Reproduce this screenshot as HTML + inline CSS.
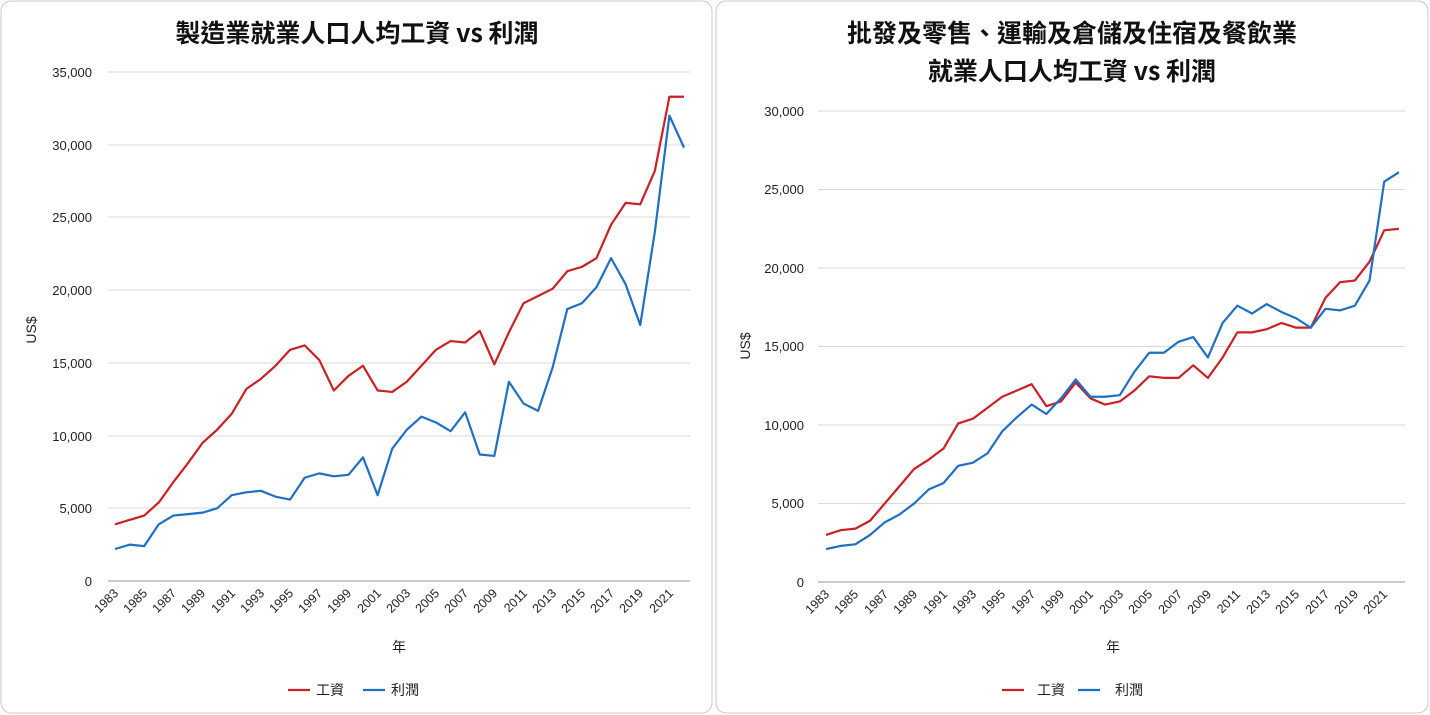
<!DOCTYPE html>
<html><head><meta charset="utf-8"><style>
body{margin:0;background:#fff;}
svg{display:block;font-family:"Liberation Sans","Noto Sans CJK TC",sans-serif;}
.t{font-family:"Noto Sans CJK TC","Liberation Sans",sans-serif;font-weight:700;font-size:25px;fill:#111;}
.yl{font-size:13px;fill:#222;text-anchor:end;}
.xl{font-size:12.5px;fill:#222;text-anchor:end;}
.g{stroke:#d9d9d9;stroke-width:1;}
.ax{font-family:"Liberation Sans","Noto Sans CJK TC",sans-serif;font-size:14px;fill:#222;}
</style></head><body>
<svg width="1430" height="715" viewBox="0 0 1430 715">
<rect x="1" y="1" width="711" height="712" rx="10" fill="#fff" stroke="#c8c8c8"/>
<rect x="716" y="1" width="712" height="712" rx="10" fill="#fff" stroke="#c8c8c8"/>

<!-- LEFT -->
<text class="t" x="357" y="42" text-anchor="middle">製造業就業人口人均工資 vs 利潤</text>
<g>
<line class="g" x1="108" x2="690" y1="72" y2="72"/><line class="g" x1="108" x2="690" y1="145" y2="145"/>
<line class="g" x1="108" x2="690" y1="217" y2="217"/><line class="g" x1="108" x2="690" y1="290" y2="290"/>
<line class="g" x1="108" x2="690" y1="363" y2="363"/><line class="g" x1="108" x2="690" y1="436" y2="436"/>
<line class="g" x1="108" x2="690" y1="508" y2="508"/><line x1="108" x2="690" y1="581" y2="581" stroke="#999"/>
</g>
<g class="yl">
<text x="92" y="77">35,000</text><text x="92" y="150">30,000</text><text x="92" y="222">25,000</text>
<text x="92" y="295">20,000</text><text x="92" y="368">15,000</text><text x="92" y="441">10,000</text>
<text x="92" y="513">5,000</text><text x="92" y="586">0</text>
</g>
<text class="ax" transform="translate(36,330) rotate(-90)" text-anchor="middle">US$</text>
<g class="xl">
<text transform="translate(119,594) rotate(-45)">1983</text><text transform="translate(148,594) rotate(-45)">1985</text>
<text transform="translate(177,594) rotate(-45)">1987</text><text transform="translate(206,594) rotate(-45)">1989</text>
<text transform="translate(236,594) rotate(-45)">1991</text><text transform="translate(265,594) rotate(-45)">1993</text>
<text transform="translate(294,594) rotate(-45)">1995</text><text transform="translate(323,594) rotate(-45)">1997</text>
<text transform="translate(352,594) rotate(-45)">1999</text><text transform="translate(382,594) rotate(-45)">2001</text>
<text transform="translate(411,594) rotate(-45)">2003</text><text transform="translate(440,594) rotate(-45)">2005</text>
<text transform="translate(469,594) rotate(-45)">2007</text><text transform="translate(498,594) rotate(-45)">2009</text>
<text transform="translate(528,594) rotate(-45)">2011</text><text transform="translate(557,594) rotate(-45)">2013</text>
<text transform="translate(586,594) rotate(-45)">2015</text><text transform="translate(615,594) rotate(-45)">2017</text>
<text transform="translate(644,594) rotate(-45)">2019</text><text transform="translate(674,594) rotate(-45)">2021</text>
</g>
<text class="ax" x="399" y="652" text-anchor="middle">年</text>
<g transform="matrix(14.59 0 0 -0.014543 115 581)" fill="none">
<polyline vector-effect="non-scaling-stroke" stroke="#cc1f26" stroke-width="2.2" stroke-linejoin="round" points="0,3900 1,4200 2,4500 3,5400 4,6800 5,8100 6,9500 7,10400 8,11500 9,13200 10,13900 11,14800 12,15900 13,16200 14,15200 15,13100 16,14100 17,14800 18,13100 19,13000 20,13700 21,14800 22,15900 23,16500 24,16400 25,17200 26,14900 27,17100 28,19100 29,19600 30,20100 31,21300 32,21600 33,22200 34,24500 35,26000 36,25900 37,28200 38,33300 39,33300"/>
<polyline vector-effect="non-scaling-stroke" stroke="#1f6fc5" stroke-width="2.2" stroke-linejoin="round" points="0,2200 1,2500 2,2400 3,3900 4,4500 5,4600 6,4700 7,5000 8,5900 9,6100 10,6200 11,5800 12,5600 13,7100 14,7400 15,7200 16,7300 17,8500 18,5900 19,9100 20,10400 21,11300 22,10900 23,10300 24,11600 25,8700 26,8600 27,13700 28,12200 29,11700 30,14700 31,18700 32,19100 33,20200 34,22200 35,20400 36,17600 37,24000 38,32000 39,29800"/>
</g>
<line x1="288" x2="310" y1="690" y2="690" stroke="#cc1f26" stroke-width="2.2"/>
<text class="ax" x="316" y="695">工資</text>
<line x1="363" x2="385" y1="690" y2="690" stroke="#1f6fc5" stroke-width="2.2"/>
<text class="ax" x="391" y="695">利潤</text>

<!-- RIGHT -->
<text class="t" x="1072" y="42" text-anchor="middle">批發及零售、運輸及倉儲及住宿及餐飲業</text>
<text class="t" x="1072" y="80" text-anchor="middle">就業人口人均工資 vs 利潤</text>
<g>
<line class="g" x1="818" x2="1405" y1="111" y2="111"/><line class="g" x1="818" x2="1405" y1="189.5" y2="189.5"/>
<line class="g" x1="818" x2="1405" y1="268" y2="268"/><line class="g" x1="818" x2="1405" y1="346.5" y2="346.5"/>
<line class="g" x1="818" x2="1405" y1="425" y2="425"/><line class="g" x1="818" x2="1405" y1="503.5" y2="503.5"/>
<line x1="818" x2="1405" y1="582" y2="582" stroke="#999"/>
</g>
<g class="yl">
<text x="804" y="116">30,000</text><text x="804" y="194">25,000</text><text x="804" y="273">20,000</text>
<text x="804" y="351">15,000</text><text x="804" y="430">10,000</text><text x="804" y="508">5,000</text>
<text x="804" y="587">0</text>
</g>
<text class="ax" transform="translate(750,346) rotate(-90)" text-anchor="middle">US$</text>
<g class="xl">
<text transform="translate(830,595) rotate(-45)">1983</text><text transform="translate(859,595) rotate(-45)">1985</text>
<text transform="translate(889,595) rotate(-45)">1987</text><text transform="translate(918,595) rotate(-45)">1989</text>
<text transform="translate(948,595) rotate(-45)">1991</text><text transform="translate(977,595) rotate(-45)">1993</text>
<text transform="translate(1006,595) rotate(-45)">1995</text><text transform="translate(1036,595) rotate(-45)">1997</text>
<text transform="translate(1065,595) rotate(-45)">1999</text><text transform="translate(1094,595) rotate(-45)">2001</text>
<text transform="translate(1124,595) rotate(-45)">2003</text><text transform="translate(1153,595) rotate(-45)">2005</text>
<text transform="translate(1183,595) rotate(-45)">2007</text><text transform="translate(1212,595) rotate(-45)">2009</text>
<text transform="translate(1241,595) rotate(-45)">2011</text><text transform="translate(1271,595) rotate(-45)">2013</text>
<text transform="translate(1300,595) rotate(-45)">2015</text><text transform="translate(1330,595) rotate(-45)">2017</text>
<text transform="translate(1359,595) rotate(-45)">2019</text><text transform="translate(1388,595) rotate(-45)">2021</text>
</g>
<text class="ax" x="1113" y="652" text-anchor="middle">年</text>
<g transform="matrix(14.69 0 0 -0.0157 826 582)" fill="none">
<polyline vector-effect="non-scaling-stroke" stroke="#cc1f26" stroke-width="2.2" stroke-linejoin="round" points="0,3000 1,3300 2,3400 3,3900 4,5000 5,6100 6,7200 7,7800 8,8500 9,10100 10,10400 11,11100 12,11800 13,12200 14,12600 15,11200 16,11500 17,12700 18,11700 19,11300 20,11500 21,12200 22,13100 23,13000 24,13000 25,13800 26,13000 27,14300 28,15900 29,15900 30,16100 31,16500 32,16200 33,16200 34,18100 35,19100 36,19200 37,20400 38,22400 39,22500"/>
<polyline vector-effect="non-scaling-stroke" stroke="#1f6fc5" stroke-width="2.2" stroke-linejoin="round" points="0,2100 1,2300 2,2400 3,3000 4,3800 5,4300 6,5000 7,5900 8,6300 9,7400 10,7600 11,8200 12,9600 13,10500 14,11300 15,10700 16,11700 17,12900 18,11800 19,11800 20,11900 21,13400 22,14600 23,14600 24,15300 25,15600 26,14300 27,16500 28,17600 29,17100 30,17700 31,17200 32,16800 33,16200 34,17400 35,17300 36,17600 37,19200 38,25500 39,26100"/>
</g>
<line x1="1002" x2="1024" y1="690" y2="690" stroke="#cc1f26" stroke-width="2.2"/>
<text class="ax" x="1037" y="695">工資</text>
<line x1="1078" x2="1100" y1="690" y2="690" stroke="#1f6fc5" stroke-width="2.2"/>
<text class="ax" x="1115" y="695">利潤</text>
</svg>
</body></html>
